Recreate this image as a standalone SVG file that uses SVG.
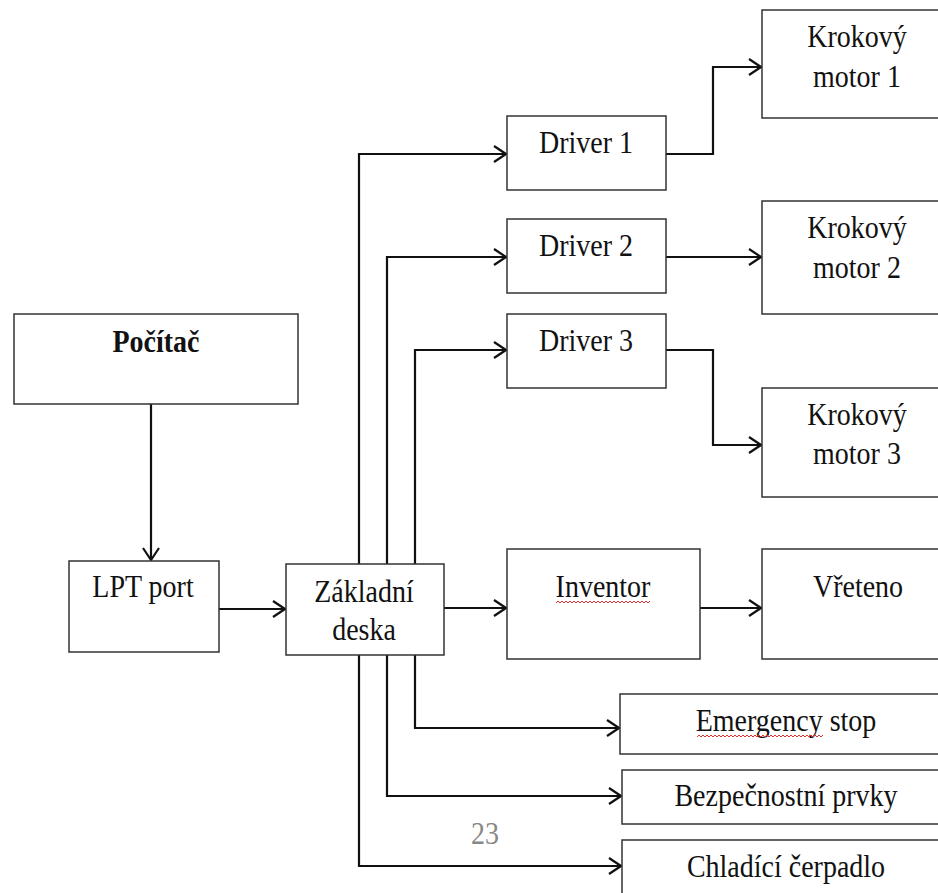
<svg xmlns="http://www.w3.org/2000/svg" width="938" height="893" viewBox="0 0 938 893">
<style>
.box{fill:#fff;stroke:#333;stroke-width:1.5}
.t{font-family:'Liberation Serif','Times New Roman','DejaVu Serif',serif;font-size:28px;fill:#111;text-anchor:middle}
.b{font-weight:bold}
.c{fill:none;stroke:#111;stroke-width:2.2}
.sq{fill:none;stroke:#e03030;stroke-width:1}
</style>
<defs>
<marker id="ah" viewBox="0 0 14 18" refX="13" refY="9" markerWidth="14" markerHeight="18" markerUnits="userSpaceOnUse" orient="auto">
<path d="M1,1 L13,9 L1,17" fill="none" stroke="#111" stroke-width="2.2"/>
</marker>
</defs>
<rect width="938" height="893" fill="#fff"/>
<g id="connectors">
<path class="c" marker-end="url(#ah)" d="M151,404 V560"/>
<path class="c" marker-end="url(#ah)" d="M219,609 H285"/>
<path class="c" marker-end="url(#ah)" d="M359,564 V154 H506"/>
<path class="c" marker-end="url(#ah)" d="M387,564 V257 H506"/>
<path class="c" marker-end="url(#ah)" d="M415,564 V350 H506"/>
<path class="c" marker-end="url(#ah)" d="M666,154 H713 V67 H761"/>
<path class="c" marker-end="url(#ah)" d="M666,257 H761"/>
<path class="c" marker-end="url(#ah)" d="M666,350 H713 V445 H761"/>
<path class="c" marker-end="url(#ah)" d="M444,608 H506"/>
<path class="c" marker-end="url(#ah)" d="M700,608 H761"/>
<path class="c" marker-end="url(#ah)" d="M415,653 V728 H619"/>
<path class="c" marker-end="url(#ah)" d="M387,653 V796 H621"/>
<path class="c" marker-end="url(#ah)" d="M359,655 V866 H621"/>
</g>
<g id="pocitac"><rect class="box" x="14" y="314" width="284" height="90"/><text class="t b" transform="translate(156,352) scale(1,1.12)">Počítač</text></g>
<g id="lpt"><rect class="box" x="69" y="561" width="150" height="91"/><text class="t" transform="translate(143,597) scale(1,1.12)">LPT port</text></g>
<g id="zakladni"><rect class="box" x="286" y="564" width="158" height="91"/><text class="t" transform="translate(364,602) scale(1,1.12)">Základní</text><text class="t" transform="translate(364,640) scale(1,1.12)">deska</text></g>
<g id="driver1"><rect class="box" x="507" y="116" width="159" height="74"/><text class="t" transform="translate(586,153) scale(1,1.12)">Driver 1</text></g>
<g id="driver2"><rect class="box" x="507" y="219" width="159" height="74"/><text class="t" transform="translate(586,256) scale(1,1.12)">Driver 2</text></g>
<g id="driver3"><rect class="box" x="507" y="314" width="159" height="74"/><text class="t" transform="translate(586,351) scale(1,1.12)">Driver 3</text></g>
<g id="motor1"><rect class="box" x="762" y="10" width="190" height="108"/><text class="t" transform="translate(857,47) scale(1,1.12)">Krokový</text><text class="t" transform="translate(857,87) scale(1,1.12)">motor 1</text></g>
<g id="motor2"><rect class="box" x="762" y="201" width="190" height="113"/><text class="t" transform="translate(857,238) scale(1,1.12)">Krokový</text><text class="t" transform="translate(857,278) scale(1,1.12)">motor 2</text></g>
<g id="motor3"><rect class="box" x="762" y="388" width="190" height="109"/><text class="t" transform="translate(857,425) scale(1,1.12)">Krokový</text><text class="t" transform="translate(857,464) scale(1,1.12)">motor 3</text></g>
<g id="inventor"><rect class="box" x="507" y="549" width="193" height="110"/><text class="t" transform="translate(603,597) scale(1,1.12)">Inventor</text><path class="sq" d="M556,603 l2,-2 l2,2 l2,-2 l2,2 l2,-2 l2,2 l2,-2 l2,2 l2,-2 l2,2 l2,-2 l2,2 l2,-2 l2,2 l2,-2 l2,2 l2,-2 l2,2 l2,-2 l2,2 l2,-2 l2,2 l2,-2 l2,2 l2,-2 l2,2 l2,-2 l2,2 l2,-2 l2,2 l2,-2 l2,2 l2,-2 l2,2 l2,-2 l2,2 l2,-2 l2,2 l2,-2 l2,2 l2,-2 l2,2 l2,-2 l2,2 l2,-2 l2,2 l2,-2"/></g>
<g id="vreteno"><rect class="box" x="762" y="549" width="190" height="110"/><text class="t" transform="translate(858,597) scale(1,1.12)">Vřeteno</text></g>
<g id="emergency"><rect class="box" x="620" y="694" width="330" height="60"/><text class="t" transform="translate(786,731) scale(1,1.12)">Emergency stop</text><path class="sq" d="M697,737 l2,-2 l2,2 l2,-2 l2,2 l2,-2 l2,2 l2,-2 l2,2 l2,-2 l2,2 l2,-2 l2,2 l2,-2 l2,2 l2,-2 l2,2 l2,-2 l2,2 l2,-2 l2,2 l2,-2 l2,2 l2,-2 l2,2 l2,-2 l2,2 l2,-2 l2,2 l2,-2 l2,2 l2,-2 l2,2 l2,-2 l2,2 l2,-2 l2,2 l2,-2 l2,2 l2,-2 l2,2 l2,-2 l2,2 l2,-2 l2,2 l2,-2 l2,2 l2,-2 l2,2 l2,-2 l2,2 l2,-2 l2,2 l2,-2 l2,2 l2,-2 l2,2 l2,-2 l2,2 l2,-2 l2,2 l2,-2 l2,2 l2,-2"/></g>
<g id="bezpecnostni"><rect class="box" x="622" y="770" width="328" height="54"/><text class="t" transform="translate(786,806) scale(1,1.12)">Bezpečnostní prvky</text></g>
<g id="chladici"><rect class="box" x="622" y="840" width="328" height="70"/><text class="t" transform="translate(786,877) scale(1,1.12)">Chladící čerpadlo</text></g>
<text class="t" style="fill:#888" transform="translate(485,844) scale(1,1.12)">23</text>
</svg>
